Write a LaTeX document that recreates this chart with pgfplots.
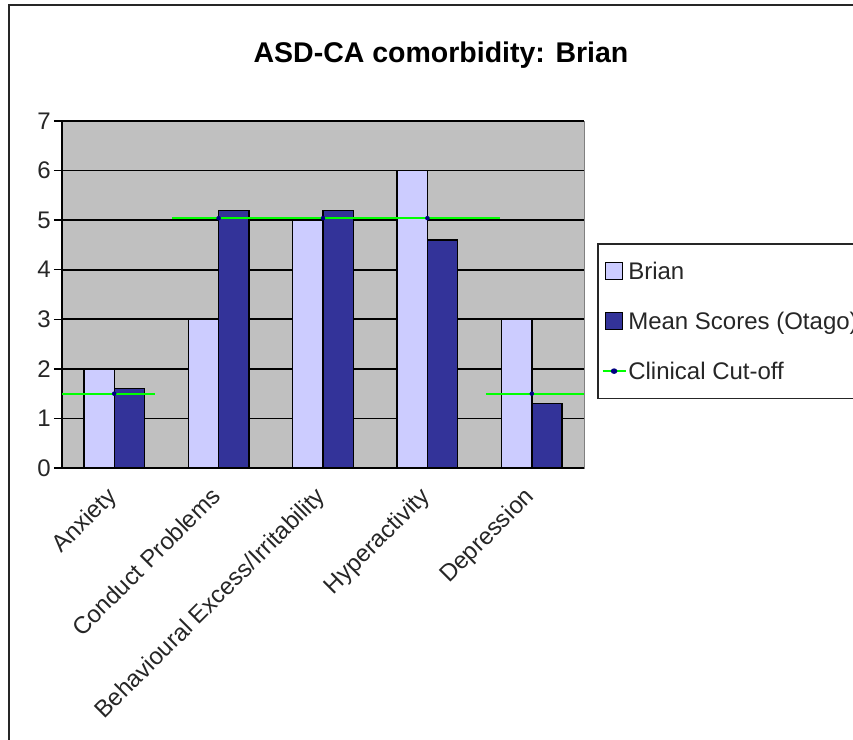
\documentclass[border=0pt]{standalone}
\usepackage{pgfplots}
\pgfplotsset{compat=1.18}
\usepackage{fontspec}
\setmainfont{Liberation Sans}
\definecolor{brian}{HTML}{CCCCFF}
\definecolor{meanc}{HTML}{333399}
\definecolor{plotbg}{HTML}{C0C0C0}
\definecolor{cutg}{HTML}{00FF00}
\definecolor{navym}{HTML}{000080}
\pgfplotsset{barleg/.style={area legend, legend image code/.code={\draw[##1, line width=1.2pt] (0pt,-8pt) rectangle (17pt,9pt);}}}
\begin{document}
\begin{tikzpicture}
\useasboundingbox (0pt,0pt) rectangle (853pt,739pt);
\clip (0pt,0pt) rectangle (853pt,739pt);
\draw[line width=2pt, black!85] (9pt,-5pt) -- (9pt,734pt) -- (860pt,734pt);
\node[font=\bfseries\fontsize{28.5}{34}\selectfont, inner sep=0pt] at (441pt,684pt) {ASD-CA comorbidity: Brian};
\begin{axis}[
  at={(62pt,271pt)}, anchor=south west,
  width=522pt, height=347pt, scale only axis,
  xmin=-0.5, xmax=4.5, ymin=0, ymax=7,
  axis background/.style={fill=plotbg, draw=gray},
  axis x line*=bottom, axis y line*=left,
  axis line style={-, line width=1.8pt, black},
  ytick={0,1,...,7},
  ymajorgrids, major grid style={line width=1.6pt, black},
  tick align=outside,
  major tick style={line width=1.5pt, black},
  minor tick style={line width=1.5pt, black},
  major tick length=8pt, minor tick length=8pt,
  xtick={0,1,2,3,4},
  x tick style={draw=none},
  minor xtick={-0.5,0.5,1.5,2.5,3.5,4.5},
  xticklabels={Anxiety, Conduct Problems, Behavioural Excess/Irritability, Hyperactivity, Depression},
  ticklabel style={font=\fontsize{24}{28}\selectfont, text=black!85},
  /pgf/number format/assume math mode=true,
  xticklabel style={xshift=-9pt, yshift=-8pt, rotate=45, anchor=north east, inner sep=1pt},
  yticklabel style={inner sep=3pt},
  ybar=0pt, bar width=30.3pt,
  legend style={at={(1.025,0.648)}, anchor=north west, draw=black!85, line width=1.5pt,
    font=\fontsize{24}{28}\selectfont, inner xsep=4pt, inner ysep=16pt, row sep=27pt,
    nodes={inner sep=2pt, text=black!85}},
  legend cell align=left,
]
\addplot[fill=brian, draw=black, line width=1.4pt, barleg]
  coordinates {(0,2) (1,3) (2,5) (3,6) (4,3)};
\addplot[fill=meanc, draw=black, line width=1.4pt, barleg]
  coordinates {(0,1.6) (1,5.2) (2,5.2) (3,4.6) (4,1.3)};
\addlegendentry{Brian}
\addlegendentry{Mean Scores (Otago)}
\addlegendimage{legend image code/.code={
  \draw[cutg, line width=1.5pt] (-3pt,0pt) -- (20pt,0pt);
  \fill[navym] (8.5pt,0pt) ellipse (2.5pt and 2pt);}}
\addlegendentry{Clinical Cut-off}
\addplot[sharp plot, cutg, line width=1.8pt, forget plot, bar shift=0pt] coordinates {(-0.5,1.5) (0.39,1.5)};
\addplot[sharp plot, cutg, line width=1.8pt, forget plot, bar shift=0pt] coordinates {(0.556,5.04) (3.70,5.04)};
\addplot[sharp plot, cutg, line width=1.8pt, forget plot, bar shift=0pt] coordinates {(3.56,1.5) (4.5,1.5)};
\addplot[only marks, mark=*, mark size=2pt, navym, forget plot, bar shift=0pt] coordinates {(0,1.5) (1,5.04) (2,5.04) (3,5.04) (4,1.5)};
\end{axis}
\end{tikzpicture}
\end{document}
